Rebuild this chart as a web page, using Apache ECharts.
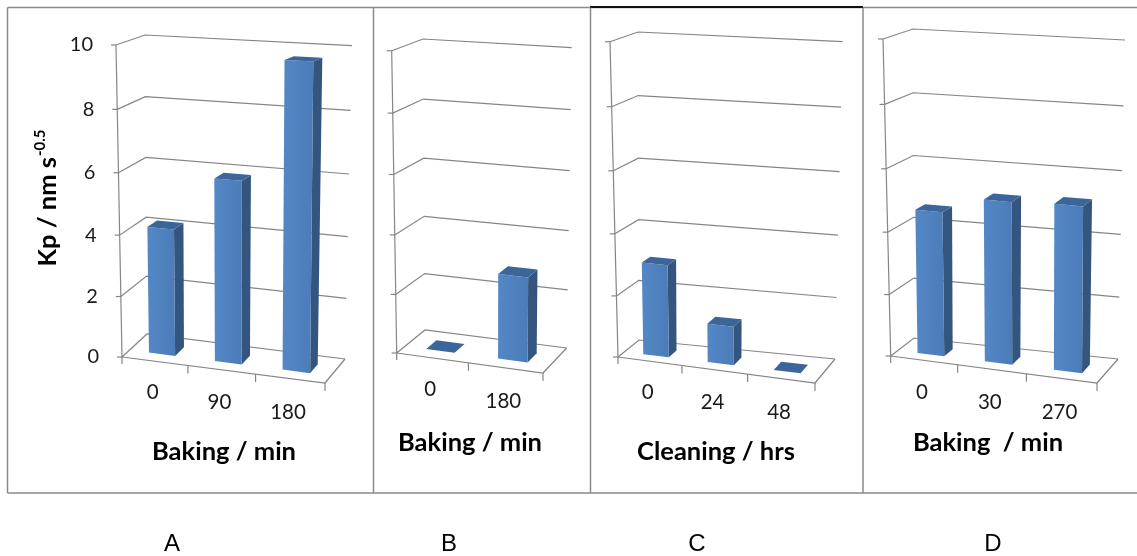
<!DOCTYPE html>
<html>
<head>
<meta charset="utf-8">
<script src="https://cdn.jsdelivr.net/npm/echarts@6/dist/echarts.min.js"></script>
<style>
  html, body { margin: 0; padding: 0; background: #ffffff; }
  #chart { width: 1137px; height: 556px; }
</style>
</head>
<body>
<div id="chart"></div>
<script>
// ---- data ----
const valueTicks = [0, 2, 4, 6, 8, 10];
const tickLabels = ['0', '2', '4', '6', '8', '10'];

const catsA = ['0', '90', '180'];
const valsA = [4.15, 5.9, 9.7];

const catsB = ['0', '180'];
const valsB = [0, 2.85];

const catsC = ['0', '24', '48'];
const valsC = [3.0, 1.25, 0];

const catsD = ['0', '30', '270'];
const valsD = [4.64, 5.17, 5.25];

const axisTitles = ['Baking / min', 'Baking / min', 'Cleaning / hrs', 'Baking  / min'];
const panelLetters = ['A', 'B', 'C', 'D'];

// ---- styling ----
const GRID_COLOR = '#858585';
const FRAME_COLOR = '#8a8a8a';
const TEXT_COLOR = '#1a1a1a';
const FONT = 'Lato, "Open Sans", sans-serif';
const BAR_FRONT = new echarts.graphic.LinearGradient(0, 0, 1, 0, [
  { offset: 0, color: '#5487c6' },
  { offset: 1, color: '#4b7cb8' }
]);
const BAR_SIDE = '#34567e';
const BAR_TOP = '#3c669a';
const BAR_D0 = 0.3, BAR_D1 = 0.67, BAR_HALF = 0.2;

// perspective easing along an edge (far end compressed)
function warp(t, r) { return t / (t + r * (1 - t)); }
function lerp(a, b, t) { return [a[0] + (b[0] - a[0]) * t, a[1] + (b[1] - a[1]) * t]; }

// box corners: f = front plane, b = back plane; first digit u (0 left,1 right), second v (0 floor, 1 top)
function makeProjector(box) {
  return function (u, v, d) {
    const uu = warp(u, 1.04), vv = warp(v, 1.04);
    const f = lerp(lerp(box.f00, box.f10, uu), lerp(box.f01, box.f11, uu), vv);
    const b = lerp(lerp(box.b00, box.b10, uu), lerp(box.b01, box.b11, uu), vv);
    return lerp(f, b, d);
  };
}

const panels = [
  { cats: catsA, vals: valsA, showLabels: true,
    box: { f00: [122, 357], f10: [325, 383], f01: [116, 45], f11: [328, 55.7],
           b00: [147, 334], b10: [345, 359], b01: [145, 35], b11: [352, 45.7] },
    titlePos: [224, 452], letterPos: [172, 544] },
  { cats: catsB, vals: valsB, showLabels: false,
    box: { f00: [396.7, 353], f10: [543, 373], f01: [391.7, 50.7], f11: [545, 61],
           b00: [425, 330], b10: [566.7, 348], b01: [423, 39], b11: [571.7, 47.7] },
    titlePos: [470, 443], letterPos: [449, 544] },
  { cats: catsC, vals: valsC, showLabels: false,
    box: { f00: [618, 357], f10: [815, 383], f01: [610, 41.7], f11: [814.7, 58.4],
           b00: [639, 340], b10: [835, 359], b01: [638, 32], b11: [842.7, 41.7] },
    titlePos: [716, 452], letterPos: [697, 544] },
  { cats: catsD, vals: valsD, showLabels: false,
    box: { f00: [890.7, 356], f10: [1097, 383], f01: [883, 39], f11: [1098.3, 56],
           b00: [914, 338], b10: [1118, 359], b01: [913, 29], b11: [1125, 40] },
    titlePos: [988, 443], letterPos: [993, 544] }
];
panels.forEach(p => { p.proj = makeProjector(p.box); });

function normV(cs, py) { return (cs.y + cs.height - py) / cs.height; }

// back wall + left wall gridlines, front axis ticks and tick labels
function wallRender(pn) {
  return function (params, api) {
    const cs = params.coordSys;
    const v = normV(cs, api.coord([0, api.value(1)])[1]);
    const P = pn.proj;
    const a = P(0, v, 0), b = P(0, v, 1), c = P(1, v, 1);
    const kids = [
      { type: 'polyline', shape: { points: [a, b, c] },
        style: { stroke: GRID_COLOR, lineWidth: 1.2, fill: null } },
      { type: 'line', shape: { x1: a[0] - 5, y1: a[1], x2: a[0], y2: a[1] },
        style: { stroke: GRID_COLOR, lineWidth: 1.2 } }
    ];
    if (pn.showLabels) {
      kids.push({ type: 'text', x: a[0] - 23, y: a[1],
        style: { text: tickLabels[params.dataIndex], fill: TEXT_COLOR, fontSize: 20,
                 fontFamily: FONT, align: 'right', verticalAlign: 'middle' } });
    }
    return { type: 'group', children: kids };
  };
}

// floor edges, front value axis, category ticks and labels
function floorRender(pn) {
  return function (params, api) {
    const cs = params.coordSys;
    const idx = api.value(0);
    const P = pn.proj;
    const c = api.coord([idx, 0]);
    const uc = (c[0] - cs.x) / cs.width;
    const band = api.size([1, 0])[0] / cs.width;
    const kids = [];
    const t = P(uc + band / 2, 0, 0);
    kids.push({ type: 'line', shape: { x1: t[0], y1: t[1], x2: t[0], y2: t[1] + 8 },
      style: { stroke: GRID_COLOR, lineWidth: 1.2 } });
    const lp = P(uc, 0, 0);
    kids.push({ type: 'text', x: lp[0] - 2, y: lp[1] + 31 + 4 * uc,
      style: { text: pn.cats[idx], fill: TEXT_COLOR, fontSize: 20.5, fontFamily: FONT,
               align: 'center', verticalAlign: 'middle' } });
    if (idx === 0) {
      const o = P(0, 0, 0), top = P(0, 1, 0), fr = P(1, 0, 0), br = P(1, 0, 1);
      kids.push({ type: 'polyline', shape: { points: [[o[0], o[1] + 7], o, top] },
        style: { stroke: GRID_COLOR, lineWidth: 1.2, fill: null } });
      kids.push({ type: 'polyline', shape: { points: [o, fr, br] },
        style: { stroke: GRID_COLOR, lineWidth: 1.2, fill: null } });
    }
    return { type: 'group', children: kids };
  };
}

// 3D column: right side, front face, top face
function barRender(pn) {
  return function (params, api) {
    const cs = params.coordSys;
    const idx = api.value(0), val = api.value(1);
    const top = api.coord([idx, val]);
    const base = api.coord([idx, 0]);
    const hw = BAR_HALF * api.size([1, 0])[0] / cs.width;
    const uc = (top[0] - cs.x) / cs.width;
    const vt = normV(cs, top[1]), vb = normV(cs, base[1]);
    const P = pn.proj;
    const u0 = uc - hw, u1 = uc + hw;
    const front = [P(u0, vb, BAR_D0), P(u1, vb, BAR_D0), P(u1, vt, BAR_D0), P(u0, vt, BAR_D0)];
    const side = [P(u1, vb, BAR_D0), P(u1, vb, BAR_D1), P(u1, vt, BAR_D1), P(u1, vt, BAR_D0)];
    const lid = [P(u0, vt, BAR_D0), P(u1, vt, BAR_D0), P(u1, vt, BAR_D1), P(u0, vt, BAR_D1)];
    return { type: 'group', children: [
      { type: 'polygon', shape: { points: side }, style: { fill: BAR_SIDE } },
      { type: 'polygon', shape: { points: front }, style: { fill: BAR_FRONT } },
      { type: 'polygon', shape: { points: lid }, style: { fill: BAR_TOP } }
    ] };
  };
}

const grids = [], xAxes = [], yAxes = [], series = [];
panels.forEach((pn, i) => {
  const bx = pn.box;
  grids.push({ left: bx.f01[0], top: bx.f01[1], width: bx.f10[0] - bx.f00[0],
               height: bx.f00[1] - bx.f01[1], containLabel: false });
  xAxes.push({ type: 'category', gridIndex: i, data: pn.cats, show: false });
  yAxes.push({ type: 'value', gridIndex: i, min: 0, max: 10, interval: 2, show: false });
  series.push({ type: 'custom', xAxisIndex: i, yAxisIndex: i, silent: true, z: 1,
    data: valueTicks.map(t => [0, t]), renderItem: wallRender(pn) });
  series.push({ type: 'custom', xAxisIndex: i, yAxisIndex: i, silent: true, z: 1,
    data: pn.cats.map((c, k) => [k, 0]), renderItem: floorRender(pn) });
  series.push({ type: 'custom', xAxisIndex: i, yAxisIndex: i, silent: true, z: 2,
    data: pn.vals.map((v, k) => [k, v]), renderItem: barRender(pn) });
});

// panel frames, titles, letters
const graphics = [];
const frameLine = (x1, y1, x2, y2, color, w) => ({ type: 'line', silent: true,
  shape: { x1, y1, x2, y2 }, style: { stroke: color, lineWidth: w } });
graphics.push(frameLine(7.5, 7.5, 1137, 7.5, FRAME_COLOR, 1.5));
graphics.push(frameLine(590, 7, 863, 7, '#111111', 2));
graphics.push(frameLine(7.5, 493, 1137, 493, FRAME_COLOR, 1.5));
[7.5, 373.5, 590.5, 863].forEach(x => graphics.push(frameLine(x, 7.5, x, 493, FRAME_COLOR, 1.5)));

panels.forEach((pn, i) => {
  graphics.push({ type: 'text', x: pn.titlePos[0], y: pn.titlePos[1], silent: true,
    style: { text: axisTitles[i], fill: '#000', fontSize: 25.5, fontWeight: 'bold', fontFamily: FONT,
             align: 'center', verticalAlign: 'middle' } });
  graphics.push({ type: 'text', x: pn.letterPos[0], y: pn.letterPos[1], silent: true,
    style: { text: panelLetters[i], fill: '#000', fontSize: 24, fontFamily: '"Liberation Sans", sans-serif',
             align: 'center', verticalAlign: 'middle' } });
});

graphics.push({ type: 'text', x: 48, y: 198, rotation: Math.PI / 2, silent: true,
  style: { text: '{a|Kp / nm s}{b|-0.5}', align: 'center', verticalAlign: 'middle',
    rich: {
      a: { fontSize: 25.5, fontWeight: 'bold', fontFamily: FONT, fill: '#000', lineHeight: 30 },
      b: { fontSize: 15, fontWeight: 'bold', fontFamily: FONT, fill: '#000', verticalAlign: 'top', lineHeight: 18, padding: [0, 0, 12, 1] }
    } } });

const chart = echarts.init(document.getElementById('chart'), null, { renderer: 'canvas' });
chart.setOption({
  animation: false,
  backgroundColor: '#ffffff',
  grid: grids,
  xAxis: xAxes,
  yAxis: yAxes,
  series: series,
  graphic: graphics
});
</script>
</body>
</html>
